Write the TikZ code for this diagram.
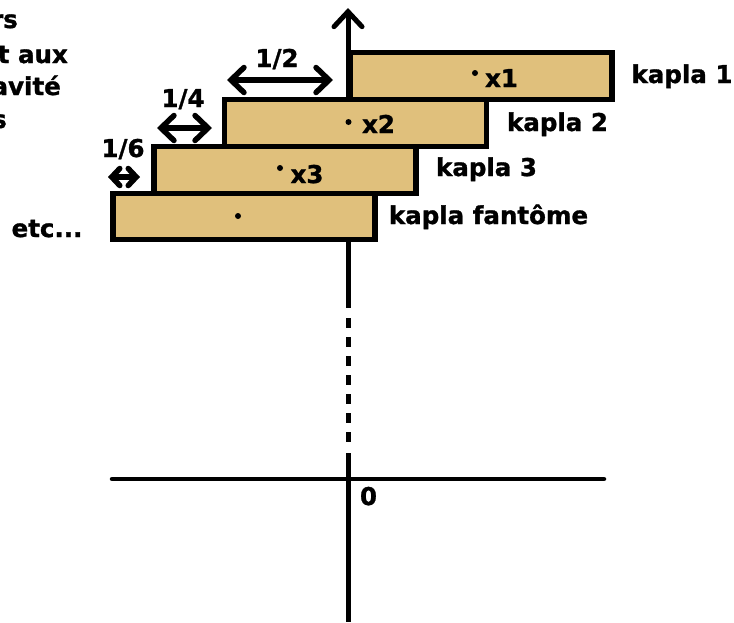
\documentclass[tikz,border=0pt]{standalone}
\usepackage{fontspec}
\setmainfont{DejaVu Sans}[BoldFeatures={FakeBold=1.2}]
\usetikzlibrary{arrows.meta}
\definecolor{wood}{RGB}{224,192,124}
\tikzset{
  kapla/.style={draw=black, fill=wood, line width=5.5pt, minimum width=262pt, minimum height=47pt, inner sep=0pt},
  lbl/.style={inner sep=0pt, font=\bfseries\fontsize{24.5}{28}\selectfont},
  cdot/.style={circle, fill=black, inner sep=0pt, minimum size=6pt},
  axis/.style={line width=5pt},
  barb/.style={line width=5.5pt, line cap=round, {Straight Barb[length=13pt,width=25pt,line cap=round]}-{Straight Barb[length=13pt,width=25pt,line cap=round]}},
  sbarb/.style={line width=5.5pt, line cap=round, {Straight Barb[length=8pt,width=17pt,line cap=round]}-{Straight Barb[length=8pt,width=17pt,line cap=round]}}
}
\begin{document}
\begin{tikzpicture}[x=1pt,y=-1pt]
\useasboundingbox (0,0) rectangle (734,622);
% axis coordinates
\coordinate (atop) at (348,8);
\coordinate (abot) at (348,622);
\coordinate (s1) at (348,308);
\coordinate (d1) at (348,318);
\coordinate (d2) at (348,443);
\coordinate (s2) at (348,453);
\coordinate (hl) at (112,479);
\coordinate (hr) at (604,479);
% vertical axis
\draw[axis, -{Straight Barb[length=15pt,width=28pt,line cap=round]}] (348,240) -- (atop);
\draw[axis] (348,240) -- (s1);
\draw[axis, dash pattern=on 10pt off 9pt] (d1) -- (d2);
\draw[axis] (s2) -- (abot);
% horizontal axis
\draw[line width=4.5pt, line cap=round] (hl) -- (hr);
\node[lbl, anchor=base] (zero) at (368.5,505) {0};
% kaplas
\node[kapla] (k1) at (481,76) {};
\node[kapla] (k2) at (355.5,123) {};
\node[kapla] (k3) at (285,170) {};
\node[kapla, minimum height=46pt] (k4) at (244,216.5) {};
% centres
\node[cdot] (c1) at (475,73) {};
\node[cdot] (c2) at (348.5,122) {};
\node[cdot] (c3) at (280,168) {};
\node[cdot] (c4) at (238,216) {};
\node[lbl, anchor=base] (x1) at (501.5,87) {x1};
\node[lbl, anchor=base] (x2) at (378.5,133) {x2};
\node[lbl, anchor=base] (x3) at (307,183) {x3};
% kapla labels
\node[lbl, anchor=base] (l1) at (682,83) {kapla 1};
\node[lbl, anchor=base] (l2) at (557.5,131) {kapla 2};
\node[lbl, anchor=base] (l3) at (486.5,176) {kapla 3};
\node[lbl, anchor=base] (l4) at (488.5,224) {kapla fantôme};
\node[lbl, anchor=base] (etc) at (47,237) {etc...};
% offsets
\coordinate (a1l) at (227,80);
\coordinate (a1r) at (333,80);
\coordinate (a2l) at (157,128);
\coordinate (a2r) at (212,128);
\coordinate (a3l) at (108,177);
\coordinate (a3r) at (140,177);
\draw[barb] (a1l) -- (a1r);
\draw[barb] (a2l) -- (a2r);
\draw[sbarb] (a3l) -- (a3r);
\node[lbl, anchor=base] (f2) at (277,67) {1/2};
\node[lbl, anchor=base] (f4) at (183,107) {1/4};
\node[lbl, anchor=base] (f6) at (123,157) {1/6};
% cut-off text at top left (cut by the picture's edge, as in the reference)
\node[lbl, anchor=base east] (t1) at (18,28) {rs};
\node[lbl, anchor=base east] (t2) at (68,63) {t aux};
\node[lbl, anchor=base east] (t3) at (61,95) {avité};
\node[lbl, anchor=base east] (t4) at (7,128) {s};
\end{tikzpicture}
\end{document}
